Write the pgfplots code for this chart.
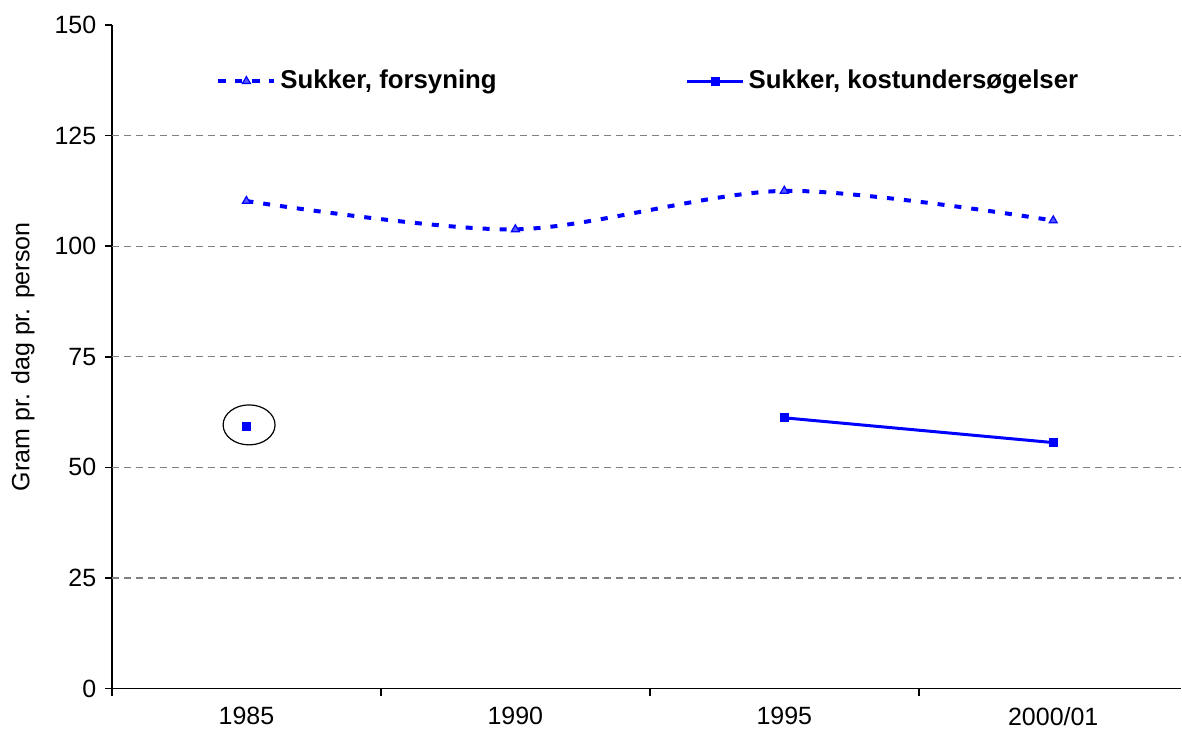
\documentclass[border=0pt]{standalone}
\usepackage{fontspec}
\setmainfont{Liberation Sans}
\usepackage{pgfplots}
\pgfplotsset{compat=1.18}
\begin{document}
\fontsize{12.5}{15}\selectfont
\begin{tikzpicture}
\begin{axis}[
  name=ax,
  scale only axis,
  width=535pt, height=332pt,
  xmin=-0.5, xmax=3.476,
  ymin=0, ymax=150,
  axis x line*=bottom, axis y line*=left,
  axis line style={line width=0.75pt, black, -},
  xtick={-0.5,0.5,1.5,2.5},
  xticklabels={},
  extra x ticks={0,1,2,3},
  extra x tick labels={1985,1990,1995,2000/01},
  extra x tick style={major tick length=0pt, tick label style={yshift=-5pt}},
  ytick={0,25,50,75,100,125,150},
  extra y ticks={25,50,75,100,125},
  extra y tick labels={},
  extra y tick style={major tick length=0pt, ymajorgrids=true},
  major grid style={gray, line width=0.6pt, dash pattern=on 3.5pt off 2.5pt},
  tick align=outside,
  major tick length=3.5pt,
  tick style={black, line width=0.75pt},
  tick label style={font=\fontsize{12.5}{15}\selectfont},
  /pgf/number format/assume math mode=true,
  ylabel={Gram pr. dag pr. person},
  ylabel style={font=\fontsize{12.5}{15}\selectfont, yshift=-2pt},
  clip=false,
  unbounded coords=jump,
  legend columns=2,
  legend style={draw=none, fill=none, at={(axis cs:-0.113,137.3)}, anchor=west,
    font=\fontsize{12.9}{15}\selectfont\bfseries, inner sep=0pt,
    /tikz/every even column/.append style={column sep=92.5pt}},
  legend image code/.code={\draw[mark repeat=2,mark phase=2,#1] plot coordinates {(0pt,0pt)(14pt,0pt)(28pt,0pt)};},
]
\addplot[blue, line width=2pt, dash pattern=on 3.5pt off 5pt, smooth,
  mark=triangle*, mark size=2.3pt, mark options={solid, line width=0.6pt, draw=blue, fill=blue!65!white}]
  coordinates {(0,110.2) (1,103.8) (2,112.5) (3,105.8)};
\addlegendentry{Sukker, forsyning}
\addplot[blue, line width=1.5pt, mark=square*, mark size=2pt, mark options={solid, fill=blue, line width=0pt}]
  coordinates {(0,59.3) (1,nan) (2,61.2) (3,55.6)};
\addlegendentry{Sukker, kostundersøgelser}
\draw[black, line width=0.6pt] (axis cs:0.01,59.6) ellipse [x radius=13pt, y radius=10pt];
\end{axis}
\path (ax.south west) ++(-56pt,-26.5pt) coordinate (bl);
\path (ax.north east) ++(0pt,12.5pt) coordinate (tr);
\path (bl) rectangle (tr);
\end{tikzpicture}
\end{document}
